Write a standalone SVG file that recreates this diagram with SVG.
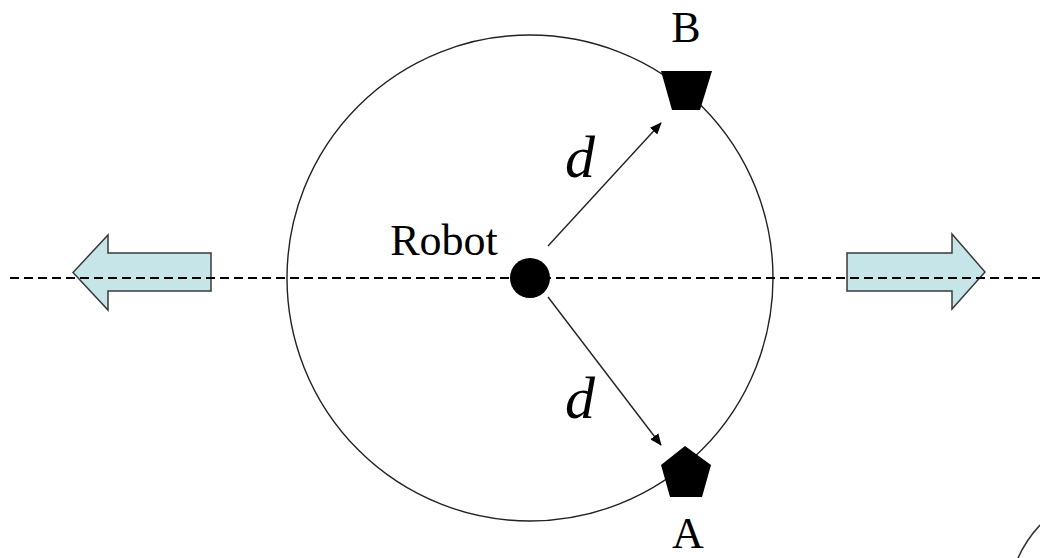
<svg xmlns="http://www.w3.org/2000/svg" width="1040" height="558" viewBox="0 0 1040 558">
<style>
.lbl{font-family:"Liberation Serif","Times New Roman",serif;fill:#000}
.math{font-family:"Liberation Serif","Times New Roman",serif;font-style:italic;fill:#000}
.blk{fill:#c6e5e9;stroke:#3a3a3a;stroke-width:1.5;stroke-linejoin:miter}
.conn{stroke:#222;stroke-width:1.4;fill:none}
</style>
<defs>
<marker id="ah" viewBox="0 0 12 10" refX="11" refY="5" markerWidth="12" markerHeight="10" markerUnits="userSpaceOnUse" orient="auto">
<path d="M0,0 L12,5 L0,10 z" fill="#000"/>
</marker>
</defs>
<rect width="1040" height="558" fill="#fff"/>
<g id="left-arrow"><polygon class="blk" points="211,253 108,253 108,235 73,272.5 108,310 108,291 211,291"/></g>
<g id="right-arrow"><polygon class="blk" points="847,253 952,253 952,234 985,272 952,309 952,291 847,291"/></g>
<g id="circle"><circle cx="530" cy="278" r="243" fill="none" stroke="#222" stroke-width="1.4"/></g>
<g id="connectors">
<line x1="10" y1="278" x2="1040" y2="278" stroke="#000" stroke-width="2.2" stroke-dasharray="9,5"/>
<line class="conn" x1="548" y1="246" x2="661" y2="123" marker-end="url(#ah)"/>
<line class="conn" x1="548" y1="297" x2="661" y2="445" marker-end="url(#ah)"/>
</g>
<g id="robot"><circle cx="530" cy="278" r="20" fill="#000"/><text class="lbl" x="444" y="255" font-size="44" text-anchor="middle">Robot</text></g>
<g id="B"><polygon points="661,71 712,71 700,110 672,110" fill="#000"/><text class="lbl" x="686" y="42" font-size="44" text-anchor="middle">B</text></g>
<g id="A"><polygon points="685,446 711,465 702,497 670,497 661,465" fill="#000"/><text class="lbl" x="688" y="548" font-size="44" text-anchor="middle">A</text></g>
<text class="math" x="580" y="177" font-size="60" text-anchor="middle">d</text>
<text class="math" x="580" y="418" font-size="60" text-anchor="middle">d</text>
<path d="M1018,558 Q1026,540 1040,525" fill="none" stroke="#333" stroke-width="1.6"/>
</svg>
